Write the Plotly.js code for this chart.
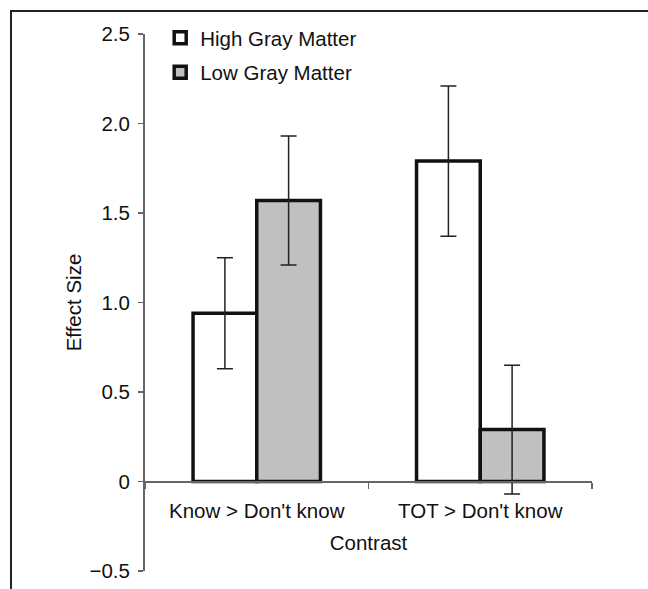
<!DOCTYPE html>
<html>
<head>
<meta charset="utf-8">
<script src="https://cdn.plot.ly/plotly-3.0.1.min.js"></script>
<style>
  html, body { margin: 0; padding: 0; background: #fff; overflow: hidden; }
  #wrap { position: relative; width: 648px; height: 589px; overflow: hidden; }
  #chart { position: absolute; left: 0; top: 0; width: 648px; height: 589px; }
  #frame { position: absolute; left: 10px; top: 10px; width: 700px; height: 700px;
           border-top: 2.5px solid #222; border-left: 2.5px solid #222; pointer-events: none; }
</style>
</head>
<body>
<div id="wrap">
  <div id="chart"></div>
  <div id="frame"></div>
</div>
<script>
const categories = ["Know > Don't know", "TOT > Don't know"];
const seriesNames = ["High Gray Matter", "Low Gray Matter"];
const highValues = [0.94, 1.79];
const highErrors = [0.31, 0.42];
const lowValues = [1.57, 0.29];
const lowErrors = [0.36, 0.36];
const yTickVals = [-0.5, 0, 0.5, 1.0, 1.5, 2.0, 2.5];
const yTickText = ["\u22120.5", "0", "0.5", "1.0", "1.5", "2.0", "2.5"];

const font = { family: "'Liberation Sans', Arial, sans-serif", size: 20.5, color: "#111" };

const traces = [
  {
    type: "bar", name: seriesNames[0], x: categories, y: highValues,
    legendgroup: "a",
    marker: { color: "#ffffff", line: { color: "#111", width: 3.5 } },
    error_y: { type: "data", array: highErrors, visible: true, color: "#222", thickness: 1.5, width: 8 }
  },
  {
    type: "bar", name: seriesNames[1], x: categories, y: lowValues,
    legendgroup: "b",
    marker: { color: "#c0c0c0", line: { color: "#111", width: 3.5 } },
    error_y: { type: "data", array: lowErrors, visible: true, color: "#222", thickness: 1.5, width: 8 }
  }
];

const layout = {
  width: 648, height: 589,
  margin: { l: 145, r: 56, t: 34, b: 18 },
  paper_bgcolor: "#fff", plot_bgcolor: "#fff",
  font: font,
  barmode: "group", bargap: 0.43, bargroupgap: 0,
  showlegend: true,
  legend: {
    x: 0.034, xanchor: "left", y: 1.03, yanchor: "top",
    bgcolor: "rgba(0,0,0,0)", font: font, traceorder: "grouped", tracegroupgap: 5
  },
  xaxis: {
    type: "category", range: [-0.5, 1.5],
    anchor: "free", position: 1 / 6,
    showline: true, linecolor: "#666", linewidth: 2,
    ticks: "outside", tickson: "boundaries", ticklen: 6, tickcolor: "#666", tickwidth: 1.5,
    ticklabelstandoff: 11,
    showgrid: false, zeroline: false,
    tickfont: font,
    title: { text: "Contrast", font: font, standoff: 14 }
  },
  yaxis: {
    range: [-0.5, 2.5],
    tickmode: "array", tickvals: yTickVals, ticktext: yTickText,
    showline: true, linecolor: "#666", linewidth: 2,
    ticks: "outside", ticklen: 5, tickcolor: "#666", tickwidth: 1.5,
    ticklabelstandoff: 4,
    showgrid: false, zeroline: false,
    tickfont: font,
    title: { text: "Effect Size", font: font, standoff: 2 }
  }
};

Plotly.newPlot("chart", traces, layout, { displayModeBar: false, staticPlot: true });
</script>
</body>
</html>
